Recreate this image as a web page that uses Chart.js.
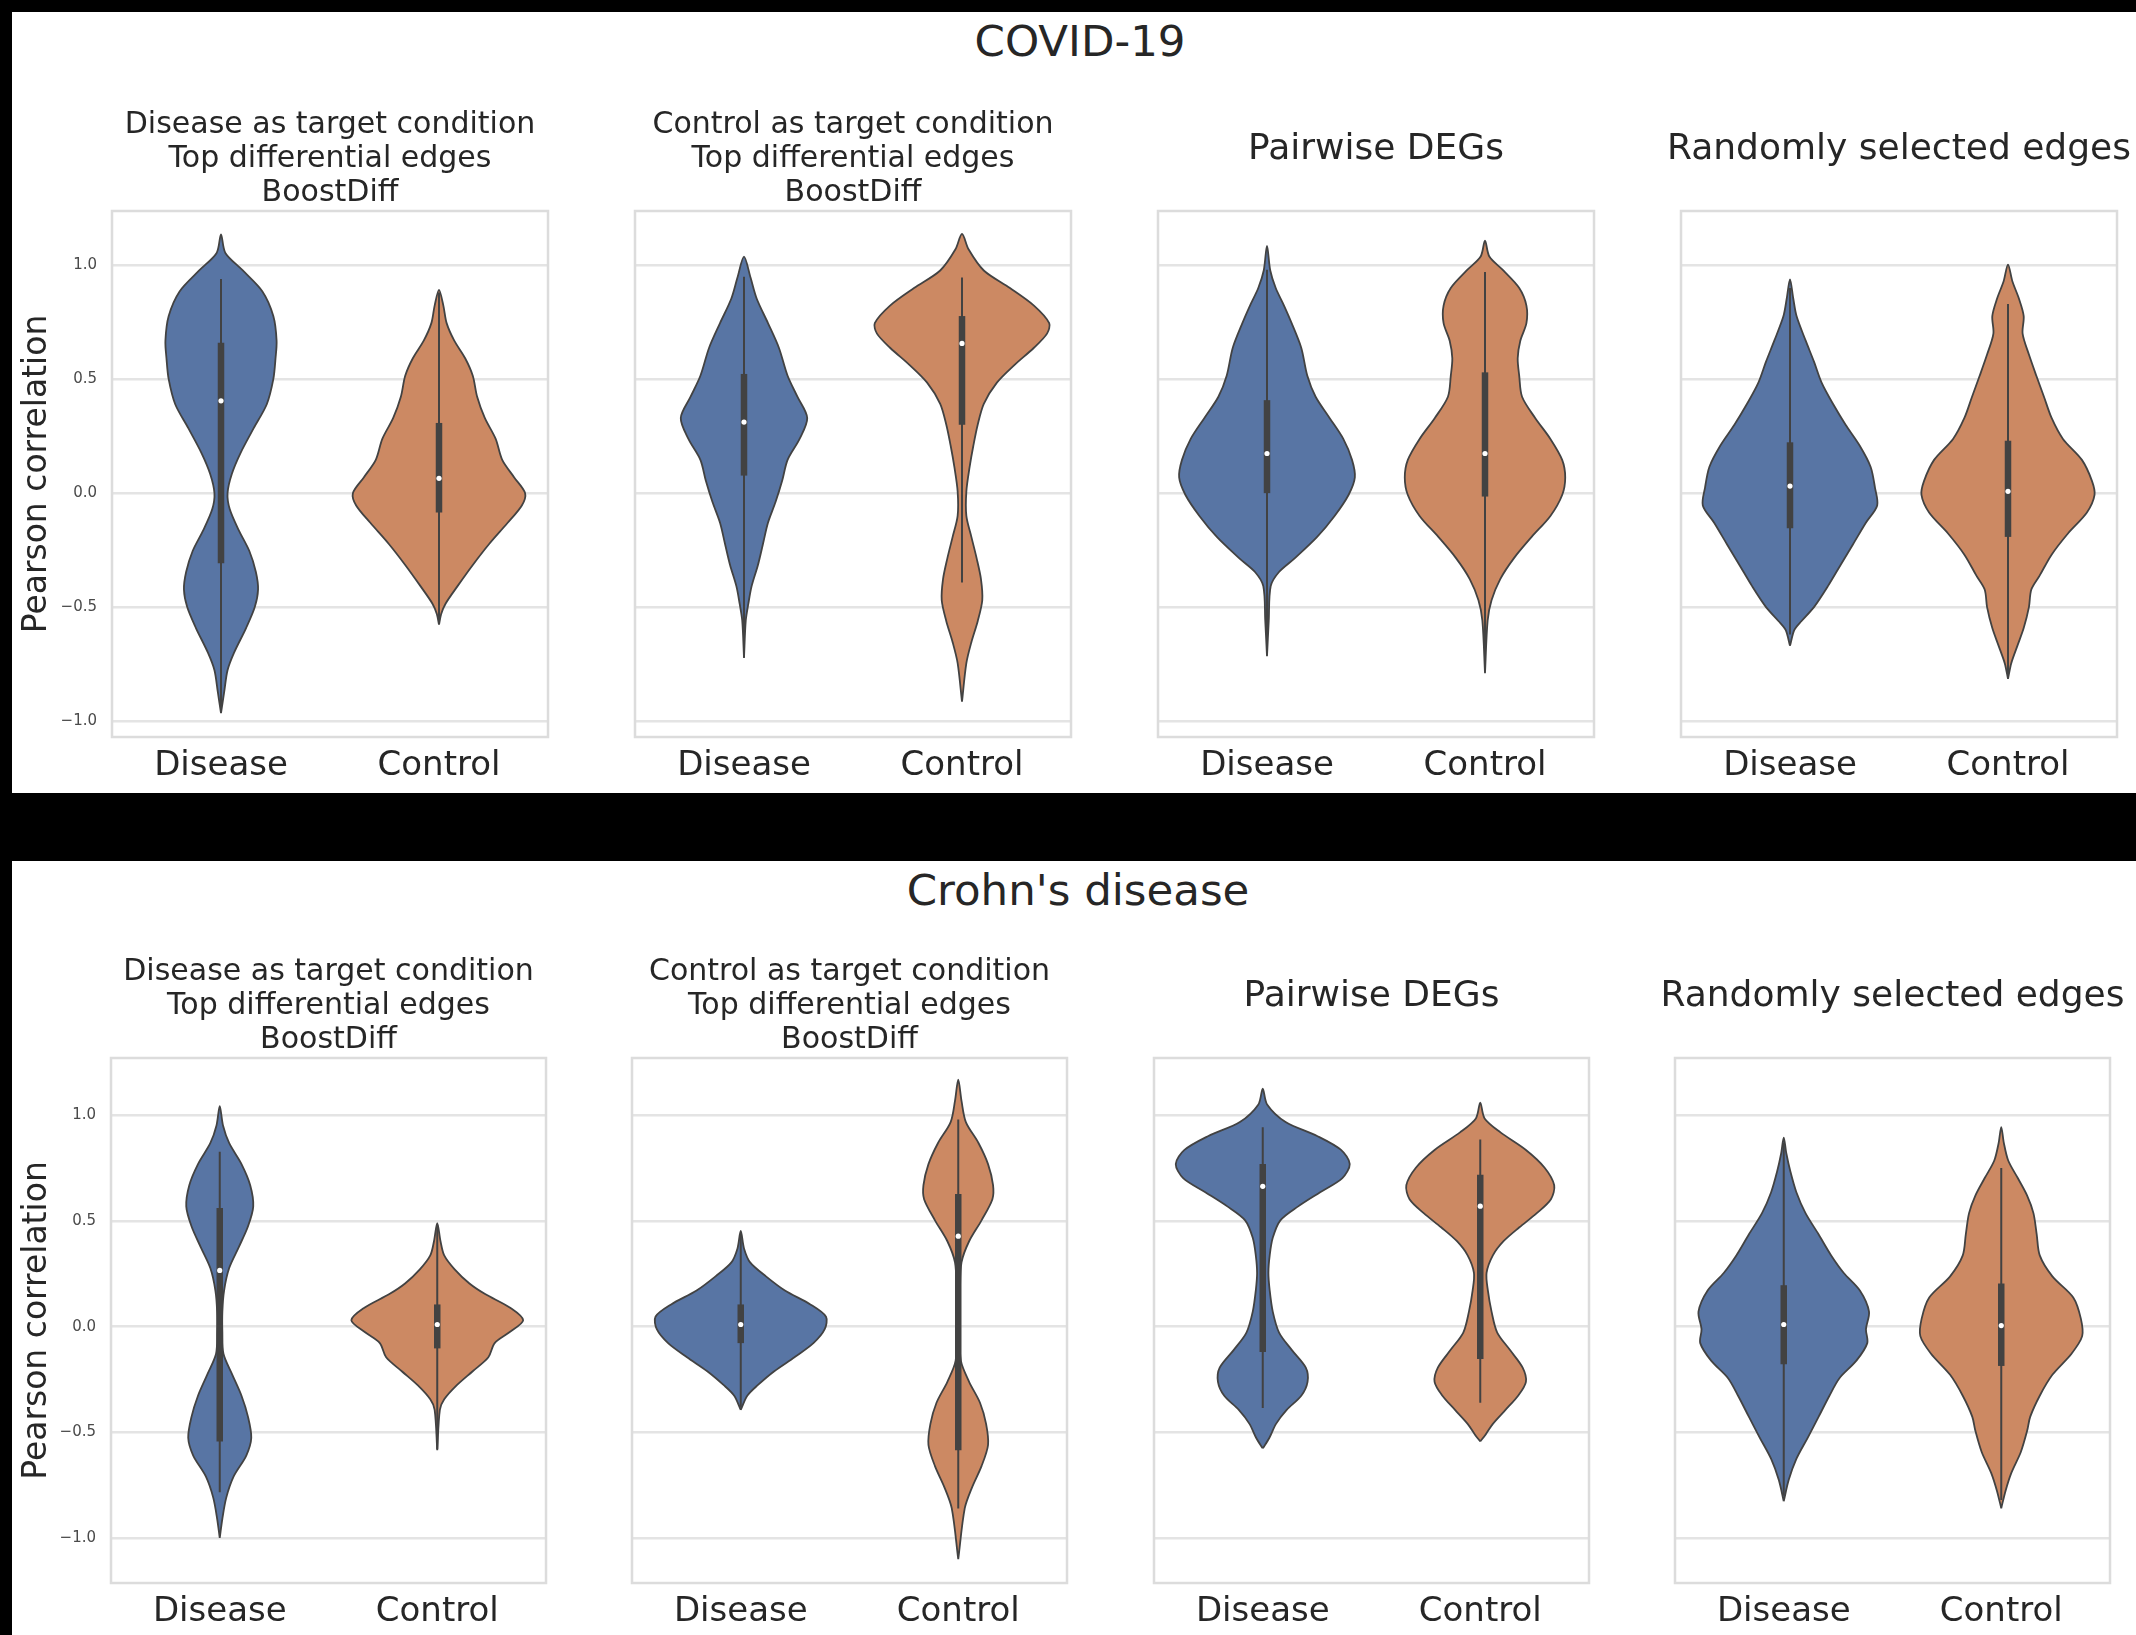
<!DOCTYPE html>
<html>
<head>
<meta charset="utf-8">
<title>Pearson correlation of differential edges</title>
<script src="https://cdn.jsdelivr.net/npm/chart.js@4.4.1/dist/chart.umd.min.js"></script>
<style>
  html, body { margin: 0; padding: 0; background: #000; }
  #page { position: relative; width: 2136px; height: 1635px; background: #000; overflow: hidden;
          font-family: 'DejaVu Sans', sans-serif; }
  .panel { position: absolute; background: #fff; }
  .suptitle { position: absolute; font-size: 43.5px; line-height: 43.5px; color: #262626;
              white-space: nowrap; transform: translateX(-50%); }
  canvas { position: absolute; }
</style>
</head>
<body>
<div id="page"></div>
<script>
// ---------------------------------------------------------------
// Data
// ---------------------------------------------------------------
const categories = ['Disease', 'Control'];
const rowTitles = ['COVID-19', "Crohn's disease"];
const panelTitles = [
  ['Disease as target condition', 'Top differential edges', 'BoostDiff'],
  ['Control as target condition', 'Top differential edges', 'BoostDiff'],
  ['Pairwise DEGs'],
  ['Randomly selected edges']
];
const yAxisTitle = 'Pearson correlation';
const yTickValues = [-1, -0.5, 0, 0.5, 1];

// Violin outlines: [correlation, half-width of the density in category units]
const covidDiseaseTargetDisease = [[-0.965,0],[-0.87,0.015],[-0.777,0.03],[-0.70,0.06],[-0.592,0.115],[-0.50,0.155],[-0.423,0.17],[-0.346,0.16],[-0.254,0.13],[-0.16,0.08],[-0.07,0.04],[0.0,0.03],[0.085,0.05],[0.177,0.09],[0.285,0.15],[0.39,0.21],[0.50,0.24],[0.59,0.25],[0.669,0.255],[0.777,0.24],[0.885,0.19],[0.977,0.10],[1.054,0.02],[1.135,0]];
const covidDiseaseTargetControl = [[-0.577,0],[-0.53,0.01],[-0.485,0.03],[-0.408,0.085],[-0.315,0.155],[-0.223,0.23],[-0.13,0.315],[-0.054,0.38],[0.0,0.395],[0.069,0.345],[0.146,0.29],[0.238,0.26],[0.33,0.21],[0.423,0.175],[0.515,0.155],[0.592,0.12],[0.669,0.07],[0.746,0.035],[0.823,0.02],[0.892,0]];
const covidControlTargetDisease = [[-0.723,0],[-0.56,0.008],[-0.485,0.02],[-0.408,0.035],[-0.315,0.064],[-0.223,0.087],[-0.13,0.11],[-0.038,0.145],[0.054,0.175],[0.146,0.2],[0.238,0.255],[0.33,0.29],[0.423,0.245],[0.515,0.2],[0.638,0.16],[0.746,0.11],[0.854,0.058],[0.946,0.03],[1.038,0]];
const covidControlTargetControl = [[-0.915,0],[-0.746,0.02],[-0.654,0.043],[-0.562,0.072],[-0.47,0.093],[-0.377,0.087],[-0.285,0.067],[-0.192,0.043],[-0.1,0.02],[0.008,0.02],[0.115,0.035],[0.208,0.052],[0.3,0.072],[0.392,0.1],[0.485,0.16],[0.562,0.24],[0.638,0.33],[0.7,0.39],[0.746,0.4],[0.823,0.33],[0.9,0.22],[0.977,0.1],[1.07,0.03],[1.138,0]];
const covidPairwiseDisease = [[-0.715,0],[-0.56,0.008],[-0.408,0.017],[-0.346,0.055],[-0.285,0.128],[-0.192,0.23],[-0.1,0.31],[-0.008,0.374],[0.069,0.403],[0.146,0.39],[0.238,0.35],[0.33,0.287],[0.423,0.223],[0.515,0.185],[0.638,0.157],[0.746,0.113],[0.823,0.078],[0.9,0.04],[0.977,0.015],[1.085,0]];
const covidPairwiseControl = [[-0.79,0],[-0.56,0.012],[-0.47,0.03],[-0.377,0.07],[-0.285,0.133],[-0.192,0.214],[-0.1,0.3],[-0.008,0.354],[0.069,0.368],[0.146,0.354],[0.238,0.3],[0.33,0.23],[0.423,0.17],[0.515,0.157],[0.592,0.15],[0.669,0.162],[0.746,0.19],[0.823,0.19],[0.9,0.157],[0.977,0.084],[1.038,0.02],[1.108,0]];
const covidRandomDisease = [[-0.67,0],[-0.6,0.02],[-0.562,0.052],[-0.5,0.11],[-0.408,0.174],[-0.315,0.232],[-0.223,0.29],[-0.13,0.348],[-0.054,0.4],[0.023,0.39],[0.115,0.37],[0.208,0.32],[0.3,0.255],[0.392,0.197],[0.485,0.145],[0.577,0.11],[0.669,0.072],[0.777,0.03],[0.854,0.015],[0.938,0]];
const covidRandomControl = [[-0.815,0],[-0.746,0.015],[-0.67,0.043],[-0.592,0.072],[-0.5,0.096],[-0.423,0.107],[-0.362,0.145],[-0.27,0.2],[-0.177,0.275],[-0.085,0.362],[-0.008,0.397],[0.054,0.385],[0.146,0.339],[0.238,0.252],[0.33,0.2],[0.423,0.165],[0.515,0.13],[0.608,0.096],[0.7,0.067],[0.777,0.072],[0.854,0.05],[0.93,0.02],[1.003,0]];

const crohnDiseaseTargetDisease = [[-1.0,0],[-0.909,0.012],[-0.809,0.03],[-0.709,0.064],[-0.61,0.122],[-0.526,0.145],[-0.427,0.13],[-0.327,0.1],[-0.228,0.058],[-0.128,0.017],[-0.028,0.012],[0.071,0.012],[0.171,0.02],[0.276,0.043],[0.375,0.087],[0.475,0.13],[0.569,0.154],[0.669,0.14],[0.769,0.1],[0.869,0.043],[0.952,0.015],[1.043,0]];
const crohnDiseaseTargetControl = [[-0.585,0],[-0.394,0.012],[-0.344,0.032],[-0.277,0.09],[-0.211,0.163],[-0.145,0.235],[-0.078,0.264],[-0.028,0.33],[0.03,0.395],[0.088,0.337],[0.154,0.22],[0.204,0.148],[0.271,0.08],[0.337,0.032],[0.404,0.015],[0.49,0]];
const crohnControlTargetDisease = [[-0.394,0],[-0.327,0.03],[-0.277,0.078],[-0.211,0.154],[-0.145,0.247],[-0.078,0.334],[-0.012,0.386],[0.047,0.392],[0.105,0.32],[0.171,0.203],[0.238,0.116],[0.304,0.043],[0.37,0.015],[0.453,0]];
const crohnControlTargetControl = [[-1.1,0],[-0.859,0.03],[-0.759,0.064],[-0.66,0.107],[-0.56,0.137],[-0.46,0.128],[-0.36,0.1],[-0.261,0.05],[-0.161,0.012],[0.005,0.006],[0.171,0.008],[0.304,0.015],[0.404,0.05],[0.503,0.107],[0.603,0.157],[0.669,0.16],[0.769,0.137],[0.869,0.093],[0.968,0.035],[1.068,0.015],[1.168,0]];
const crohnPairwiseDisease = [[-0.576,0],[-0.527,0.03],[-0.46,0.061],[-0.394,0.11],[-0.327,0.177],[-0.261,0.206],[-0.194,0.198],[-0.111,0.134],[-0.028,0.075],[0.071,0.046],[0.171,0.032],[0.254,0.026],[0.337,0.032],[0.42,0.046],[0.503,0.081],[0.569,0.163],[0.636,0.264],[0.703,0.366],[0.769,0.4],[0.836,0.36],[0.902,0.25],[0.968,0.105],[1.051,0.02],[1.126,0]];
const crohnPairwiseControl = [[-0.543,0],[-0.51,0.025],[-0.46,0.058],[-0.394,0.116],[-0.327,0.174],[-0.261,0.21],[-0.194,0.195],[-0.111,0.137],[-0.028,0.078],[0.071,0.052],[0.171,0.035],[0.254,0.029],[0.337,0.058],[0.404,0.107],[0.47,0.18],[0.537,0.26],[0.603,0.325],[0.669,0.34],[0.752,0.296],[0.836,0.21],[0.919,0.093],[0.985,0.02],[1.06,0]];
const crohnRandomDisease = [[-0.826,0],[-0.725,0.023],[-0.626,0.058],[-0.526,0.11],[-0.427,0.16],[-0.327,0.21],[-0.244,0.256],[-0.161,0.334],[-0.078,0.384],[-0.012,0.378],[0.071,0.392],[0.171,0.35],[0.254,0.276],[0.337,0.218],[0.437,0.16],[0.537,0.1],[0.636,0.058],[0.736,0.03],[0.819,0.012],[0.894,0]];
const crohnRandomControl = [[-0.859,0],[-0.776,0.02],[-0.693,0.046],[-0.593,0.09],[-0.493,0.119],[-0.427,0.133],[-0.327,0.177],[-0.228,0.235],[-0.128,0.323],[-0.045,0.372],[0.038,0.366],[0.138,0.331],[0.238,0.235],[0.337,0.177],[0.437,0.163],[0.537,0.148],[0.62,0.119],[0.703,0.076],[0.786,0.032],[0.869,0.012],[0.944,0]];

// Inner box per violin: [lower whisker, Q1, median, Q3, upper whisker]
const covidBoxStats = [
  [-0.95, -0.308, 0.405, 0.66, 0.94],   // Disease target / Disease
  [-0.57, -0.085, 0.065, 0.308, 0.88],  // Disease target / Control
  [-0.72, 0.077, 0.312, 0.523, 0.95],   // Control target / Disease
  [-0.392, 0.3, 0.657, 0.777, 0.946],   // Control target / Control
  [-0.70, 0.0, 0.174, 0.408, 0.98],     // Pairwise DEGs / Disease
  [-0.78, -0.015, 0.174, 0.53, 0.97],   // Pairwise DEGs / Control
  [-0.62, -0.154, 0.031, 0.223, 0.90],  // Random / Disease
  [-0.80, -0.192, 0.008, 0.23, 0.83]    // Random / Control
];
const crohnBoxStats = [
  [-0.784, -0.543, 0.266, 0.561, 0.827],
  [-0.58, -0.103, 0.01, 0.105, 0.48],
  [-0.38, -0.078, 0.01, 0.105, 0.44],
  [-0.86, -0.585, 0.428, 0.628, 0.98],
  [-0.385, -0.12, 0.664, 0.769, 0.943],
  [-0.36, -0.153, 0.57, 0.719, 0.885],
  [-0.80, -0.178, 0.01, 0.196, 0.87],
  [-0.82, -0.186, 0.005, 0.204, 0.75]
];

const rowProfiles = [
  [[covidDiseaseTargetDisease, covidDiseaseTargetControl], [covidControlTargetDisease, covidControlTargetControl],
   [covidPairwiseDisease, covidPairwiseControl], [covidRandomDisease, covidRandomControl]],
  [[crohnDiseaseTargetDisease, crohnDiseaseTargetControl], [crohnControlTargetDisease, crohnControlTargetControl],
   [crohnPairwiseDisease, crohnPairwiseControl], [crohnRandomDisease, crohnRandomControl]]
];
const rowBoxStats = [covidBoxStats, crohnBoxStats];

// ---------------------------------------------------------------
// Layout and style
// ---------------------------------------------------------------
const rowLayout = [
  { panelTop: 12, panelHeight: 781, titleX: 1080, titleTop: 20,
    axLefts: [112, 635, 1158, 1681], axW: 436, axTop: 211, axH: 526, yMin: -1.07, yMax: 1.238 },
  { panelTop: 861, panelHeight: 774, titleX: 1078, titleTop: 869,
    axLefts: [111, 632, 1154, 1675], axW: 435, axTop: 1058, axH: 525, yMin: -1.213, yMax: 1.271 }
];
const titleSizes = [30, 30, 36, 36];
const PANEL_LEFT = 12;
const TOP_SPACE = 200;     // canvas space above each plot area
const BOTTOM_SPACE = 60;   // room for the category labels
const SIDE_SPACE = 60;     // side margin for panels without y labels
const textColor = '#262626';
const fillColors = ['#5875a4', '#cc8963'];
const edgeColor = '#424242';
const gridColor = '#e4e4e4';
const frameColor = '#dcdcdc';
const FONT = "'DejaVu Sans', sans-serif";

Chart.defaults.font.family = FONT;
Chart.defaults.color = textColor;

// Light-grey frame round each plot area (all four spines)
const framePlugin = {
  id: 'frame',
  beforeDatasetsDraw(chart) {
    const { ctx, chartArea: a } = chart;
    ctx.save();
    ctx.strokeStyle = frameColor;
    ctx.lineWidth = 2.5;
    ctx.strokeRect(a.left, a.top, a.right - a.left, a.bottom - a.top);
    ctx.restore();
  }
};

function tickText(v) {
  const s = Math.abs(v).toFixed(1);
  return v < 0 ? '\u2212' + s : s;
}

// Closed outline: up the right side, down the mirrored left side
function violinOutline(profile, center) {
  const right = profile.map(([y, hw]) => ({ x: center + hw, y }));
  const left = profile.slice().reverse().map(([y, hw]) => ({ x: center - hw, y }));
  return right.concat(left.slice(1));
}

function violinDatasets(profiles, stats) {
  const sets = [];
  profiles.forEach((profile, i) => {
    const [lo, q1, med, q3, hi] = stats[i];
    sets.push({
      data: violinOutline(profile, i), showLine: true, fill: 'shape',
      backgroundColor: fillColors[i], borderColor: edgeColor, borderWidth: 1.8,
      borderJoinStyle: 'round', tension: 0.3, pointRadius: 0, order: 3
    });
    sets.push({
      data: [{ x: i, y: lo }, { x: i, y: hi }], showLine: true, fill: false,
      borderColor: edgeColor, borderWidth: 2, pointRadius: 0, order: 2
    });
    sets.push({
      data: [{ x: i, y: q1 }, { x: i, y: q3 }], showLine: true, fill: false,
      borderColor: edgeColor, borderWidth: 6.5, borderCapStyle: 'butt', pointRadius: 0, order: 1
    });
    sets.push({
      data: [{ x: i, y: med }], showLine: false,
      pointRadius: 2.6, pointBackgroundColor: '#ffffff', pointBorderWidth: 0, order: 0
    });
  });
  return sets;
}

const page = document.getElementById('page');

rowLayout.forEach((row, r) => {
  const panel = document.createElement('div');
  panel.className = 'panel';
  Object.assign(panel.style, { left: PANEL_LEFT + 'px', top: row.panelTop + 'px',
    width: (2136 - PANEL_LEFT) + 'px', height: row.panelHeight + 'px' });
  page.appendChild(panel);

  const sup = document.createElement('div');
  sup.className = 'suptitle';
  sup.textContent = rowTitles[r];
  Object.assign(sup.style, { left: row.titleX + 'px', top: row.titleTop + 'px' });
  page.appendChild(sup);

  row.axLefts.forEach((axLeft, k) => {
    // symmetric side margins keep the full-width title centred over the plot
    const side = k === 0 ? axLeft - PANEL_LEFT : SIDE_SPACE;
    const canvas = document.createElement('canvas');
    const w = side + row.axW + side;
    const h = TOP_SPACE + row.axH + BOTTOM_SPACE;
    canvas.width = w; canvas.height = h;
    Object.assign(canvas.style, { left: (axLeft - side) + 'px', top: (row.axTop - TOP_SPACE) + 'px',
      width: w + 'px', height: h + 'px' });
    page.appendChild(canvas);

    const lines = panelTitles[k];
    const multi = lines.length > 1;
    const titleSize = titleSizes[k];
    const lineH = multi ? 34 : titleSize * 1.2;
    const firstCenterGap = multi ? 85.5 : 61;
    const padTop = TOP_SPACE - firstCenterGap - lineH / 2;
    const padBottom = TOP_SPACE - padTop - lines.length * lineH;

    new Chart(canvas, {
      type: 'scatter',
      data: { datasets: violinDatasets(rowProfiles[r][k], rowBoxStats[r].slice(2 * k, 2 * k + 2)) },
      options: {
        responsive: false,
        animation: false,
        events: [],
        layout: { padding: 0 },
        plugins: {
          legend: { display: false },
          tooltip: { enabled: false },
          title: {
            display: true, text: lines, fullSize: true, color: textColor,
            font: { size: titleSize, weight: 'normal', lineHeight: lineH / titleSize },
            padding: { top: padTop, bottom: padBottom }
          }
        },
        scales: {
          x: {
            type: 'linear', min: -0.5, max: 1.5,
            afterBuildTicks: s => { s.ticks = categories.map((c, i) => ({ value: i })); },
            afterFit: s => { s.height = BOTTOM_SPACE; },
            grid: { display: false, drawTicks: false },
            border: { display: false },
            ticks: { callback: v => categories[v], font: { size: 34 }, color: textColor,
                     padding: 9, autoSkip: false, maxRotation: 0, minRotation: 0 }
          },
          y: {
            type: 'linear', min: row.yMin, max: row.yMax,
            afterBuildTicks: s => { s.ticks = yTickValues.map(v => ({ value: v })); },
            afterFit: s => { s.width = side; },
            grid: { color: gridColor, lineWidth: 2.5, drawTicks: false },
            border: { display: false },
            ticks: { display: k === 0, callback: v => tickText(v), font: { size: 15 },
                     color: '#4a4a4a', padding: 15 },
            title: { display: k === 0, text: yAxisTitle, color: textColor,
                     font: { size: 33 }, padding: { top: 6, bottom: 0 } }
          },
          // empty right-hand axis that only reserves the right margin
          yRight: {
            type: 'linear', axis: 'y', position: 'right', min: row.yMin, max: row.yMax,
            afterFit: s => { s.width = side; },
            grid: { display: false, drawTicks: false },
            border: { display: false },
            ticks: { display: false }
          }
        }
      },
      plugins: [framePlugin]
    });
  });
});
</script>
</body>
</html>
